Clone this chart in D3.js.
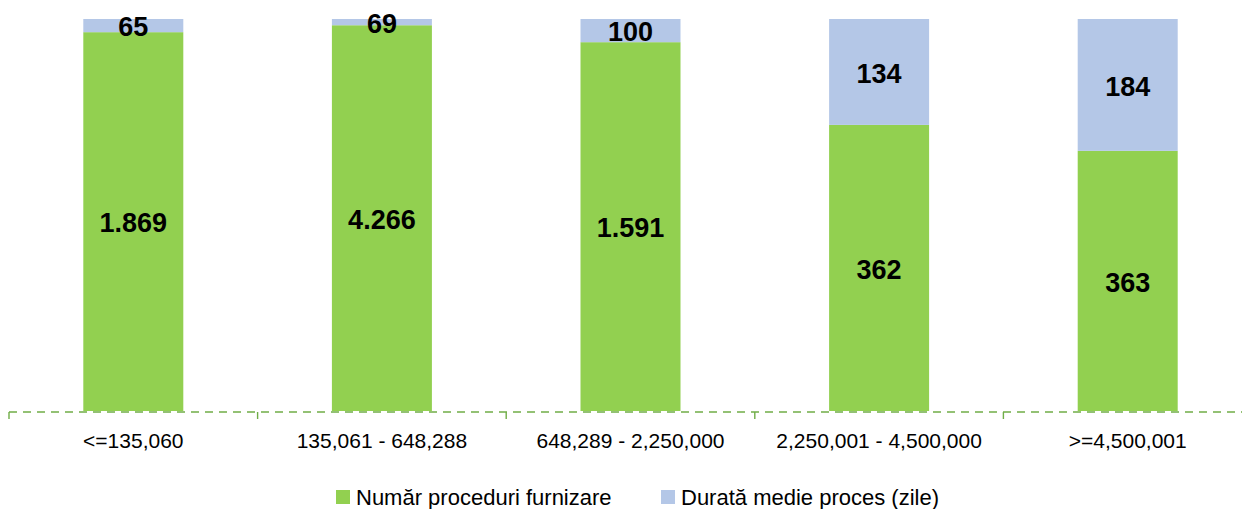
<!DOCTYPE html>
<meta charset="utf-8">
<script src="https://d3js.org/d3.v7.min.js"></script>
<style>
  body { margin: 0; background: #fff; }
  text { font-family: "Liberation Sans", Arial, sans-serif; }
</style>
<div id="chart"></div>
<script>
  // data
  var categories = ["<=135,060", "135,061 - 648,288", "648,289 - 2,250,000", "2,250,001 - 4,500,000", ">=4,500,001"];
  var proceduri = [1869, 4266, 1591, 362, 363];
  var durata = [65, 69, 100, 134, 184];
  var procLabels = ["1.869", "4.266", "1.591", "362", "363"];
  var seriesNames = ["Număr proceduri furnizare", "Durată medie proces (zile)"];
  var colors = ["#92d050", "#b4c7e7"];

  var W = 1242, H = 509;
  var svg = d3.select("#chart").append("svg")
      .attr("width", W).attr("height", H);

  var pad = 1 - 100 / 248.6;
  var x = d3.scaleBand()
    .domain(categories)
    .range([9, 9 + 5 * 248.6])
    .paddingInner(pad)
    .paddingOuter(pad / 2);

  var y = d3.scaleLinear().domain([0, 1]).range([411, 19]);

  var rows = categories.map(function(c, i) {
    var tot = proceduri[i] + durata[i];
    return { cat: c, p: proceduri[i] / tot, d: durata[i] / tot, pl: procLabels[i], dl: durata[i] };
  });

  // green part
  svg.selectAll("rect.p").data(rows).enter().append("rect")
    .attr("class", "p")
    .attr("x", function(d) { return x(d.cat); })
    .attr("width", x.bandwidth())
    .attr("y", function(d) { return y(d.p); })
    .attr("height", function(d) { return y(0) - y(d.p); })
    .attr("fill", colors[0]);

  // blue part
  svg.selectAll("rect.d").data(rows).enter().append("rect")
    .attr("class", "d")
    .attr("x", function(d) { return x(d.cat); })
    .attr("width", x.bandwidth())
    .attr("y", y(1))
    .attr("height", function(d) { return y(d.p) - y(1); })
    .attr("fill", colors[1]);

  // labels
  svg.selectAll("text.pl").data(rows).enter().append("text")
    .attr("x", function(d) { return x(d.cat) + x.bandwidth() / 2; })
    .attr("y", function(d) { return (y(0) + y(d.p)) / 2 + 1; })
    .attr("dy", "0.36em")
    .attr("text-anchor", "middle")
    .style("font-size", "27px").style("font-weight", "bold")
    .text(function(d) { return d.pl; });

  svg.selectAll("text.dl").data(rows).enter().append("text")
    .attr("x", function(d) { return x(d.cat) + x.bandwidth() / 2; })
    .attr("y", function(d) { return (y(1) + y(d.p)) / 2 + 1; })
    .attr("dy", "0.36em")
    .attr("text-anchor", "middle")
    .style("font-size", "27px").style("font-weight", "bold")
    .text(function(d) { return d.dl; });

  // x axis: dashed line + boundary ticks
  var axisY = 412;
  var step = x.step();
  svg.append("line")
    .attr("x1", x.range()[0]).attr("x2", x.range()[1])
    .attr("y1", axisY).attr("y2", axisY)
    .attr("stroke", "#70ad47").attr("stroke-width", 1.6)
    .attr("stroke-dasharray", "8,6");

  var bounds = categories.map(function(c) { return x(c) - step * pad / 2; });
  bounds.push(x.range()[1]);
  svg.selectAll("line.tick").data(bounds).enter().append("line")
    .attr("x1", function(d) { return d; }).attr("x2", function(d) { return d; })
    .attr("y1", axisY).attr("y2", axisY + 7)
    .attr("stroke", "#70ad47").attr("stroke-width", 1.4);

  var xAxis = svg.append("g")
    .attr("transform", "translate(0," + axisY + ")")
    .call(d3.axisBottom(x).tickSize(0).tickPadding(21));
  xAxis.select(".domain").remove();
  xAxis.selectAll("text")
    .style("font-size", "21px").style("fill", "#000")
    .attr("font-family", null);

  // legend
  var legend = [
    { name: seriesNames[0], color: colors[0], x: 336 },
    { name: seriesNames[1], color: colors[1], x: 661 }
  ];
  var lg = svg.selectAll("g.leg").data(legend).enter().append("g")
    .attr("transform", function(d) { return "translate(" + d.x + ",490)"; });
  lg.append("rect").attr("width", 14).attr("height", 14)
    .attr("fill", function(d) { return d.color; });
  lg.append("text").attr("x", 20).attr("y", 7).attr("dy", "0.36em")
    .style("font-size", "22px")
    .text(function(d) { return d.name; });
</script>
